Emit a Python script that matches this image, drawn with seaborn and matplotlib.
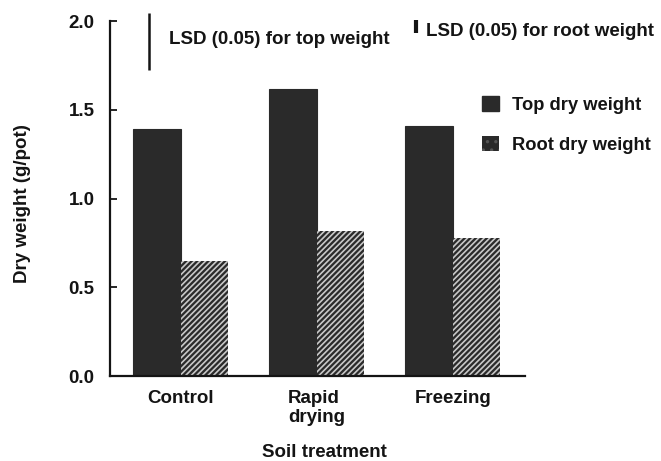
import matplotlib
matplotlib.use("Agg")
import matplotlib.pyplot as plt
from matplotlib.patches import Patch
import pandas as pd
import seaborn as sns

# Dry weights per soil treatment (g/pot)
treatments = ["Control", "Rapid\ndrying", "Freezing"]
top_weight = [1.39, 1.62, 1.41]
root_weight = [0.65, 0.82, 0.78]
series_names = ["Top dry weight", "Root dry weight"]

# Least significant differences (P = 0.05)
lsd_top = 0.32
lsd_root = 0.07

yticks = [0.0, 0.5, 1.0, 1.5, 2.0]

sns.set_theme(style="white")
plt.rcParams["font.family"] = ["Liberation Sans", "DejaVu Sans"]
plt.rcParams["font.weight"] = "bold"
plt.rcParams["axes.labelweight"] = "bold"
plt.rcParams["hatch.linewidth"] = 1.2

df = pd.DataFrame({
    "treatment": treatments * 2,
    "weight": top_weight + root_weight,
    "part": [series_names[0]] * 3 + [series_names[1]] * 3,
})

dark = "#2a2a2a"
ink = "#141414"
fig = plt.figure(figsize=(6.61, 4.61), dpi=100)
ax = fig.add_axes([0.166, 0.184, 0.628, 0.77])

sns.barplot(data=df, x="treatment", y="weight", hue="part",
            hue_order=series_names, order=treatments,
            palette={series_names[0]: dark, series_names[1]: dark},
            saturation=1, width=0.7, gap=0, legend=False, ax=ax,
            edgecolor=dark, linewidth=0.8)

# hatch the root bars with light diagonal stripes
for bar in ax.containers[1]:
    bar.set_hatch("//////")
    bar.set_edgecolor("#c8c8c8")
    bar.set_linewidth(0)

ax.set_ylim(0, 2.0)
ax.set_xlim(-0.522, 2.53)
ax.set_yticks(yticks)
ax.set_yticklabels([f"{v:.1f}" for v in yticks])

for side in ("top", "right"):
    ax.spines[side].set_visible(False)
for side in ("left", "bottom"):
    ax.spines[side].set_color(ink)
    ax.spines[side].set_linewidth(1.6)

ax.tick_params(axis="y", direction="in", length=5, width=1.3, color=ink,
               labelsize=13.5, labelcolor=ink, pad=11, left=True)
ax.tick_params(axis="x", length=0, labelsize=13.5, labelcolor=ink, pad=10)
for lab in ax.get_xticklabels():
    lab.set_multialignment("left")
    lab.set_linespacing(1.15)

ax.set_xlabel("Soil treatment", fontsize=13.5, color=ink, fontweight="bold")
ax.set_ylabel("Dry weight (g/pot)", fontsize=13.5, color=ink, fontweight="bold")
ax.xaxis.set_label_coords(0.518, -0.19)
ax.yaxis.set_label_coords(-0.19, 0.485)

# LSD bars
top_c = 1.885
ax.vlines(-0.23, top_c - lsd_top / 2, top_c + lsd_top / 2, color=ink,
          lw=1.8, clip_on=False)
ax.text(-0.085, 1.895, "LSD (0.05) for top weight", fontsize=13.5,
        color=ink, va="center", ha="left", clip_on=False)

root_c = 1.97
ax.vlines(1.73, root_c - lsd_root / 2, root_c + lsd_root / 2, color=ink,
          lw=3, clip_on=False)
ax.text(1.80, 1.94, "LSD (0.05) for root weight", fontsize=13.5,
        color=ink, va="center", ha="left", clip_on=False)

handles = [
    Patch(facecolor=dark, edgecolor=dark, label=series_names[0]),
    Patch(facecolor=dark, edgecolor="#555555", hatch="..", lw=0,
          label=series_names[1]),
]
leg = ax.legend(handles=handles, loc="upper left", bbox_to_anchor=(0.88, 0.81),
                frameon=False, fontsize=13.2, handlelength=0.9, handleheight=0.9,
                handletextpad=0.7, labelspacing=1.2, borderaxespad=0)
for t in leg.get_texts():
    t.set_color(ink)

fig.savefig("out.png", dpi=100)
